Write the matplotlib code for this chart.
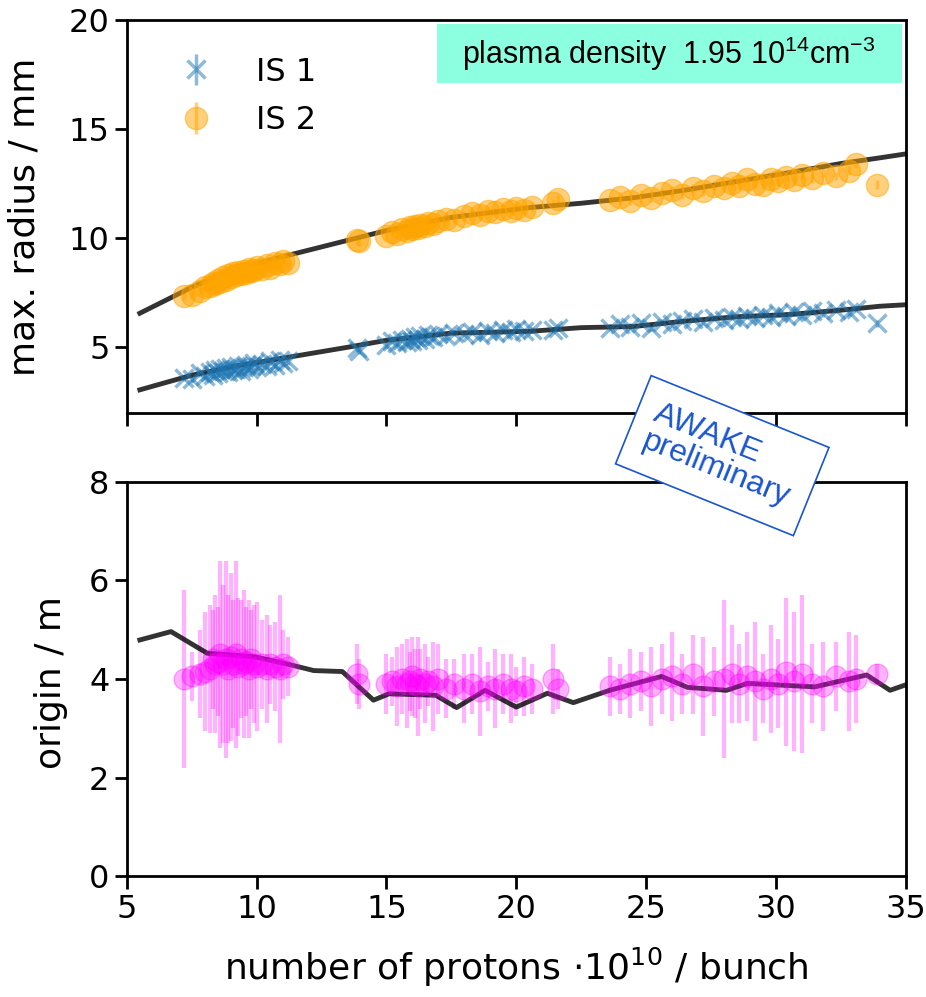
import matplotlib
matplotlib.use('Agg')
import matplotlib.pyplot as plt
from matplotlib.patches import Rectangle

# shots: protons per bunch (1e10)
protons = [7.2, 7.5, 7.8, 8.0, 8.2, 8.3, 8.4, 8.5, 8.6, 8.7, 8.8, 8.9, 9.0, 9.1, 9.2,
           9.3, 9.4, 9.5, 9.6, 9.7, 9.8, 9.9, 10.0, 10.2, 10.4, 10.5, 10.7, 10.9, 11.0, 11.2,
           13.85, 13.95,
           15.0, 15.2, 15.4, 15.6, 15.8, 15.9, 16.0, 16.1, 16.2, 16.3, 16.5, 16.6, 16.8, 17.0, 17.3, 17.6,
           18.0, 18.3, 18.6, 18.9, 19.2, 19.5, 19.8, 20.0, 20.3, 20.6,
           21.4, 21.6,
           23.6, 24.0, 24.4, 24.8, 25.2, 25.6, 26.0, 26.4, 26.8, 27.2, 27.6, 28.0, 28.3, 28.6,
           28.9, 29.2, 29.5, 29.8, 30.1, 30.4, 30.7, 31.0, 31.4, 31.8, 32.3, 32.8, 33.1,
           33.9]

radius_is1 = [3.6, 3.55, 3.8, 3.7, 3.85, 3.75, 3.95, 3.8, 4.0, 3.9, 4.05, 3.85, 4.1, 3.95, 4.0,
              4.15, 3.9, 4.1, 4.2, 4.0, 4.15, 4.3, 4.1, 4.25, 4.15, 4.35, 4.2, 4.4, 4.3, 4.35,
              4.95, 4.85,
              5.1, 5.3, 5.2, 5.35, 5.25, 5.4, 5.3, 5.45, 5.35, 5.5, 5.4, 5.55, 5.45, 5.6, 5.5, 5.65,
              5.6, 5.7, 5.55, 5.75, 5.65, 5.8, 5.7, 5.85, 5.75, 5.8,
              5.8, 5.9,
              5.9, 6.05, 5.95, 6.1, 5.9, 6.15, 6.05, 6.2, 6.3, 6.15, 6.35, 6.25, 6.4, 6.3,
              6.45, 6.35, 6.5, 6.4, 6.55, 6.45, 6.6, 6.5, 6.65, 6.55, 6.7, 6.6, 6.75,
              6.1]

radius_is2 = [7.35, 7.4, 7.6, 7.75, 7.8, 7.95, 7.9, 8.1, 8.0, 8.2, 8.1, 8.3, 8.2, 8.4, 8.3,
              8.45, 8.35, 8.5, 8.4, 8.6, 8.5, 8.55, 8.7, 8.6, 8.75, 8.65, 8.85, 8.8, 8.95, 8.85,
              9.9, 9.85,
              10.1, 10.3, 10.2, 10.4, 10.35, 10.5, 10.4, 10.55, 10.45, 10.6, 10.55, 10.7, 10.65, 10.8, 10.9, 10.85,
              11.0, 11.15, 11.05, 11.25, 11.2, 11.35, 11.25, 11.4, 11.3, 11.45,
              11.6, 11.8,
              11.75, 11.9, 11.7, 12.0, 11.85, 12.05, 12.2, 12.0, 12.3, 12.15, 12.4, 12.3, 12.55, 12.4,
              12.7, 12.5, 12.45, 12.7, 12.6, 12.8, 12.65, 12.9, 12.75, 13.0, 12.85, 13.1, 13.4,
              12.45]

origin = [4.0, 4.05, 4.1, 4.15, 4.2, 4.4, 4.3, 4.35, 4.5, 4.3, 4.4, 4.2, 4.45, 4.3, 4.5,
          4.25, 4.4, 4.3, 4.35, 4.2, 4.4, 4.3, 4.25, 4.3, 4.2, 4.3, 4.25, 4.2, 4.3, 4.25,
          4.1, 3.9,
          3.9, 3.95, 3.85, 4.0, 3.9, 3.95, 4.05, 3.9, 3.85, 4.0, 3.9, 3.95, 3.85, 4.0, 3.8, 3.9,
          3.8, 3.9, 3.75, 3.85, 3.8, 3.9, 3.8, 3.75, 3.85, 3.8,
          4.0, 3.8,
          3.85, 3.8, 3.9, 3.95, 3.85, 4.0, 4.05, 3.9, 4.1, 3.85, 3.95, 4.0, 4.1, 3.9,
          4.05, 3.95, 3.8, 4.0, 3.9, 4.15, 3.95, 4.1, 3.9, 3.85, 4.05, 3.95, 4.0,
          4.1]

origin_err = [1.8, 0.5, 0.9, 1.2, 1.3, 1.0, 1.4, 1.1, 1.9, 1.6, 2.0, 1.5, 1.7, 1.3, 1.9,
              1.4, 1.2, 1.5, 1.1, 1.4, 1.0, 1.2, 1.3, 0.9, 1.1, 0.8, 0.9, 1.5, 0.7, 0.6,
              0.6, 0.5,
              0.6, 0.5, 0.8, 0.7, 0.9, 0.6, 0.8, 0.7, 1.0, 0.6, 0.8, 0.5, 0.9, 0.7, 0.6, 0.5,
              0.7, 0.6, 0.9, 0.5, 0.8, 0.6, 0.7, 0.5, 0.6, 0.5,
              0.7, 0.4,
              0.6, 0.5, 0.7, 0.6, 0.8, 0.7, 0.9, 0.6, 0.8, 1.0, 0.7, 1.6, 1.0, 0.8,
              0.9, 1.2, 0.7, 1.1, 0.9, 1.5, 1.4, 1.6, 0.8, 0.9, 0.7, 1.0, 0.9,
              0.2]

# model curves
fit_x = [5.5, 7.5, 9.0, 11.0, 13.5, 15.0, 17.5, 20.5, 22.5, 24.5, 26.5, 28.5, 30.5, 32.5, 34.0, 35.0]
fit_is1 = [3.05, 3.72, 4.1, 4.5, 5.0, 5.32, 5.65, 5.73, 5.9, 5.95, 6.2, 6.4, 6.5, 6.7, 6.88, 6.95]
fit_is2 = [6.56, 7.75, 8.5, 9.15, 9.9, 10.35, 10.95, 11.4, 11.6, 11.85, 12.2, 12.6, 13.0, 13.42, 13.68, 13.86]

origin_x = [5.5, 6.7, 8.1, 9.9, 11.2, 12.2, 13.3, 14.5, 15.1, 16.9, 17.7, 18.8, 20.0, 21.2,
            22.2, 23.6, 25.6, 26.6, 28.1, 28.9, 31.5, 33.5, 34.4, 35.0]
origin_fit = [4.79, 4.96, 4.52, 4.45, 4.3, 4.17, 4.15, 3.57, 3.7, 3.67, 3.42, 3.77, 3.43, 3.71,
              3.52, 3.77, 4.05, 3.83, 3.77, 3.91, 3.84, 4.08, 3.77, 3.88]

fs = 23
lfs = 26
plt.rcParams['font.size'] = fs

fig = plt.figure(figsize=(9.26, 9.97), dpi=100)
ax1 = fig.add_axes([0.137, 0.586, 0.841, 0.394])
ax2 = fig.add_axes([0.137, 0.121, 0.841, 0.396])

ax1.errorbar(protons, radius_is1, yerr=0.15, fmt='x', color='#1f77b4', alpha=0.5,
             ms=13, mew=2.5, elinewidth=2.5, label='IS 1')
ax1.errorbar(protons, radius_is2, yerr=0.2, fmt='o', color='orange', alpha=0.5,
             ms=16, elinewidth=2.5, label='IS 2')
ax1.plot(fit_x, fit_is1, color='k', alpha=0.8, lw=3.5)
ax1.plot(fit_x, fit_is2, color='k', alpha=0.8, lw=3.5)
ax1.set_xlim(5, 35)
ax1.set_ylim(2, 20)
ax1.set_yticks([5, 10, 15, 20])
ax1.set_xticks([5, 10, 15, 20, 25, 30, 35])
ax1.tick_params(labelbottom=False)
ax1.set_ylabel('max. radius / mm', fontsize=lfs)
ax1.yaxis.set_label_coords(-0.109, 0.5)
ax1.legend(loc='upper left', frameon=False, fontsize=fs, handletextpad=0.9,
           borderaxespad=0.75, labelspacing=0.55)

ax2.errorbar(protons, origin, yerr=origin_err, fmt='o', color='magenta', alpha=0.3,
             ms=15, elinewidth=3)
ax2.plot(origin_x, origin_fit, color='k', alpha=0.8, lw=3.5)
ax2.set_xlim(5, 35)
ax2.set_ylim(0, 8)
ax2.set_yticks([0, 2, 4, 6, 8])
ax2.set_xticks([5, 10, 15, 20, 25, 30, 35])
ax2.set_ylabel('origin / m', fontsize=lfs)
ax2.yaxis.set_label_coords(-0.076, 0.49)
ax2.set_xlabel(r'number of protons $\cdot10^{10}$ / bunch', fontsize=lfs, labelpad=15)

for ax in (ax1, ax2):
    for s in ax.spines.values():
        s.set_linewidth(2)
    ax.tick_params(width=2, length=9)

# density label box
fig.patches.append(Rectangle((0.472, 0.917), 0.502, 0.059, transform=fig.transFigure,
                             facecolor='#8bffe0', edgecolor='none', zorder=5))
fig.text(0.722, 0.946, r'plasma density  1.95 $\mathregular{10^{14}cm^{-3}}$',
         family='Liberation Sans', fontsize=22, ha='center', va='center', zorder=6)

# preliminary stamp
fig.text(0.78, 0.543, 'AWAKE\npreliminary', family='Liberation Sans', fontsize=23,
         color='#1a55d0', rotation=-22, ha='center', va='center', multialignment='left',
         linespacing=1.0, zorder=7,
         bbox=dict(boxstyle='square,pad=0.55', fc='white', ec='#1a55d0', lw=1.2))

fig.savefig('out.png', dpi=100)
